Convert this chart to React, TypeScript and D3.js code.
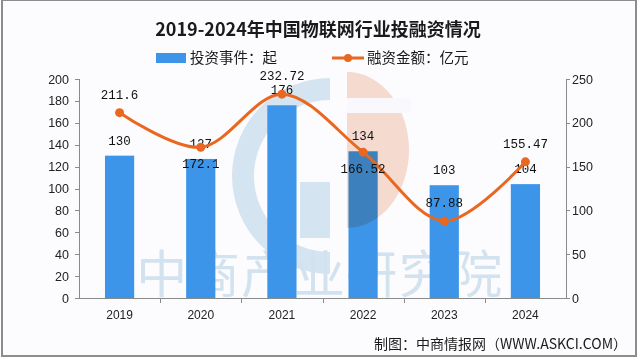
import React from "react";
import * as d3 from "d3";

const categories = ["2019", "2020", "2021", "2022", "2023", "2024"];
const eventCounts = [130, 127, 176, 134, 103, 104];
const amounts = [211.6, 172.1, 232.72, 166.52, 87.88, 155.47];
const amountLabels = ["211.6", "172.1", "232.72", "166.52", "87.88", "155.47"];
const amountLabelBelow = [false, true, false, true, false, false];
const leftTicks = [0, 20, 40, 60, 80, 100, 120, 140, 160, 180, 200];
const rightTicks = [0, 50, 100, 150, 200, 250];

const W = 640;
const H = 360;
const BAR = "#3d95e9";
const LINE = "#e9671f";
const CJK = "'Noto Sans CJK SC', 'Noto Sans', sans-serif";
const NUM = "'Liberation Mono', 'DejaVu Sans Mono', monospace";
const AX = "'Liberation Sans', Arial, sans-serif";

export default function App() {
  const left = 79;
  const right = 566;
  const top = 79;
  const bottom = 298;

  const x = d3.scaleBand<string>().domain(categories).range([left, right]).paddingInner(0.64).paddingOuter(0.32);
  const yL = d3.scaleLinear().domain([0, 200]).range([bottom, top]);
  const yR = d3.scaleLinear().domain([0, 250]).range([bottom, top]);
  const cx = (c: string) => (x(c) as number) + x.bandwidth() / 2;

  const band = (right - left) / categories.length;

  const line = d3
    .line<number>()
    .x((_, i) => cx(categories[i]))
    .y((d) => yR(d))
    .curve(d3.curveCatmullRom.alpha(0.5));

  // background logo shapes
  const cX = 330, cY = 176, rO = 98, rI = 76;
  const arcC = d3.arc()({
    innerRadius: rI,
    outerRadius: rO,
    startAngle: 0,
    endAngle: -Math.PI,
  } as any) as string;

  const sX = 347, sY = 150, sRx = 62, sRy = 78;
  const salmonPath = `M${sX},${sY - sRy} A${sRx},${sRy} 0 0 1 ${sX},${sY + sRy} Z`;

  return (
    <div style={{ position: "fixed", left: 0, top: 0, width: W, height: H }}>
      <svg width={W} height={H} style={{ display: "block" }}>
        <rect x={0} y={0} width={W} height={H} fill="#ffffff" />
        <rect x={2} y={0} width={634} height={356} fill="#fcfcfe" stroke="#8c8c8c" strokeWidth={2} />

        {/* watermark logo */}
        <g>
          <path d={arcC} transform={`translate(${cX},${cY})`} fill="#d5e4f1" />
          <rect x={300} y={182} width={cX - 300} height={56} fill="#d5e4f1" />
        </g>
        <text
          x={320}
          y={293}
          textAnchor="middle"
          fontFamily={CJK}
          fontSize={51}
          fill="#d3e2ef"
          letterSpacing={1.5}
        >
          中商产业研究院
        </text>

        {/* title */}
        <text x={318} y={36} textAnchor="middle" fontFamily={CJK} fontWeight="bold" fontSize={18} fill="#1a1a1a">
          2019-2024年中国物联网行业投融资情况
        </text>

        {/* legend */}
        <rect x={156} y={53} width={30} height={10} fill={BAR} />
        <text x={190} y={63} fontFamily={CJK} fontSize={14.5} fill="#1a1a1a">投资事件：起</text>
        <line x1={332} x2={364} y1={58} y2={58} stroke={LINE} strokeWidth={3} />
        <circle cx={348} cy={58} r={4} fill={LINE} />
        <text x={367} y={63} fontFamily={CJK} fontSize={14.5} fill="#1a1a1a">融资金额：亿元</text>

        {/* bars */}
        {categories.map((c, i) => (
          <rect
            key={c}
            x={x(c)}
            y={yL(eventCounts[i])}
            width={x.bandwidth()}
            height={bottom - yL(eventCounts[i])}
            fill={BAR}
          />
        ))}

        {/* salmon logo part, multiplied over bars */}
        <g style={{ mixBlendMode: "multiply" }}>
          <path d={salmonPath} fill="#f8ddd0" />
          <rect x={sX} y={98} width={sRx + 2} height={15} fill="#fcfcfe" />
        </g>

        {/* axes */}
        <g stroke="#8a8a8a" strokeWidth={1} fill="none">
          <line x1={left + 0.5} x2={left + 0.5} y1={top} y2={bottom} />
          <line x1={right + 0.5} x2={right + 0.5} y1={top} y2={bottom} />
          <line x1={left - 4} x2={right + 4} y1={bottom + 0.5} y2={bottom + 0.5} />
          {leftTicks.map((t) => (
            <line key={"lt" + t} x1={left - 4} x2={left} y1={Math.round(yL(t)) + 0.5} y2={Math.round(yL(t)) + 0.5} />
          ))}
          {rightTicks.map((t) => (
            <line key={"rt" + t} x1={right} x2={right + 4} y1={Math.round(yR(t)) + 0.5} y2={Math.round(yR(t)) + 0.5} />
          ))}
          {categories.slice(1).map((c, i) => (
            <line key={"xt" + c} x1={Math.round(left + band * (i + 1)) + 0.5} x2={Math.round(left + band * (i + 1)) + 0.5} y1={bottom} y2={bottom + 5} />
          ))}
        </g>
        {leftTicks.map((t) => (
          <text key={"ll" + t} x={69} y={yL(t) + 4.5} textAnchor="end" fontFamily={AX} fontSize={12.5} fill="#222">
            {t}
          </text>
        ))}
        {rightTicks.map((t) => (
          <text key={"rl" + t} x={572} y={yR(t) + 4.5} textAnchor="start" fontFamily={AX} fontSize={12.5} fill="#222">
            {t}
          </text>
        ))}
        {categories.map((c) => (
          <text key={"xl" + c} x={cx(c)} y={319} textAnchor="middle" fontFamily={AX} fontSize={12} fill="#222">
            {c}
          </text>
        ))}

        {/* bar labels */}
        {categories.map((c, i) => (
          <text key={"bl" + c} x={cx(c)} y={yL(eventCounts[i]) - 11} textAnchor="middle" fontFamily={NUM} fontSize={12.5} fill="#111">
            {eventCounts[i]}
          </text>
        ))}

        {/* line */}
        <path d={line(amounts) as string} fill="none" stroke={LINE} strokeWidth={3} />
        {categories.map((c, i) => (
          <circle key={"pt" + c} cx={cx(c)} cy={yR(amounts[i])} r={4.5} fill={LINE} />
        ))}
        {categories.map((c, i) => (
          <text
            key={"al" + c}
            x={cx(c)}
            y={amountLabelBelow[i] ? yR(amounts[i]) + 21 : yR(amounts[i]) - 14}
            textAnchor="middle"
            fontFamily={NUM}
            fontSize={12.5}
            fill="#111"
          >
            {amountLabels[i]}
          </text>
        ))}

        {/* footer */}
        <text x={627} y={349} textAnchor="end" fontFamily={CJK} fontSize={14} fill="#1a1a1a">
          制图：中商情报网（WWW.ASKCI.COM）
        </text>
      </svg>
    </div>
  );
}
